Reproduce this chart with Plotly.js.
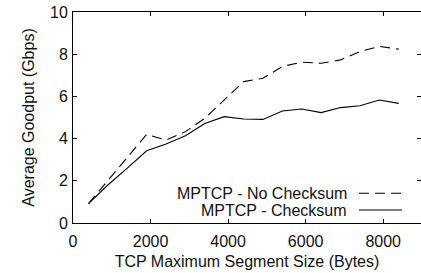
<!DOCTYPE html>
<html><head><meta charset="utf-8">
<script src="https://cdn.plot.ly/plotly-3.0.1.min.js"></script>
<style>html,body{margin:0;padding:0;background:#fff}#c{width:421px;height:273px}</style>
</head><body><div id="c"></div>
<script>
const mss = [400, 900, 1400, 1900, 2400, 2900, 3400, 3900, 4400, 4900, 5400, 5900, 6400, 6900, 7400, 7900, 8400];
const noChecksum = [0.92, 2.0, 3.1, 4.2, 3.93, 4.33, 4.96, 5.83, 6.7, 6.86, 7.42, 7.62, 7.57, 7.73, 8.13, 8.37, 8.24];
const checksum = [0.92, 1.8, 2.6, 3.42, 3.74, 4.14, 4.72, 5.04, 4.93, 4.91, 5.31, 5.40, 5.23, 5.47, 5.56, 5.83, 5.67];
const seriesNames = ["MPTCP - No Checksum", "MPTCP - Checksum"];
const xTicks = [0, 2000, 4000, 6000, 8000];
const yTicks = [0, 2, 4, 6, 8, 10];

const font = {family: "Liberation Sans, Arial, sans-serif", size: 16, color: "#111"};
const dashPat = "10px,6px";
const traces = [
  {x: mss, y: noChecksum, mode: "lines", name: seriesNames[0], line: {color: "#000", width: 1.1, dash: dashPat}},
  {x: mss, y: checksum, mode: "lines", name: seriesNames[1], line: {color: "#000", width: 1.1}}
];
const axisCommon = {showgrid: false, zeroline: false, showline: true, linecolor: "#000", linewidth: 1,
  mirror: "ticks", ticks: "inside", ticklen: 4, tickcolor: "#000", tickfont: font};
const layout = {
  width: 421, height: 273,
  margin: {l: 73, r: 0, t: 12, b: 50},
  paper_bgcolor: "#fff", plot_bgcolor: "#fff",
  showlegend: false,
  font: font,
  xaxis: Object.assign({}, axisCommon, {range: [0, 8975], tickvals: xTicks, ticktext: xTicks.map(String),
    ticklabelstandoff: 4,
    title: {text: "TCP Maximum Segment Size (Bytes)", font: font, standoff: 6}}),
  yaxis: Object.assign({}, axisCommon, {range: [0, 10], tickvals: yTicks, ticktext: yTicks.map(String),
    ticklabelstandoff: 1,
    title: {text: "Average Goodput (Gbps)", font: font, standoff: 11}}),
  annotations: [
    {xref: "paper", yref: "paper", x: (349 - 73) / 348, y: (223 - 193.3) / 211, xanchor: "right", yanchor: "middle",
      text: seriesNames[0], showarrow: false, font: font},
    {xref: "paper", yref: "paper", x: (349 - 73) / 348, y: (223 - 210) / 211, xanchor: "right", yanchor: "middle",
      text: seriesNames[1], showarrow: false, font: font}
  ],
  shapes: [
    {type: "line", xref: "paper", yref: "paper", x0: (359 - 73) / 348, x1: (402 - 73) / 348,
      y0: (223 - 193.3) / 211, y1: (223 - 193.3) / 211, line: {color: "#000", width: 1.1, dash: dashPat}},
    {type: "line", xref: "paper", yref: "paper", x0: (359 - 73) / 348, x1: (402 - 73) / 348,
      y0: (223 - 210) / 211, y1: (223 - 210) / 211, line: {color: "#000", width: 1.1}}
  ]
};
Plotly.newPlot("c", traces, layout, {staticPlot: true, displayModeBar: false});
</script></body></html>
